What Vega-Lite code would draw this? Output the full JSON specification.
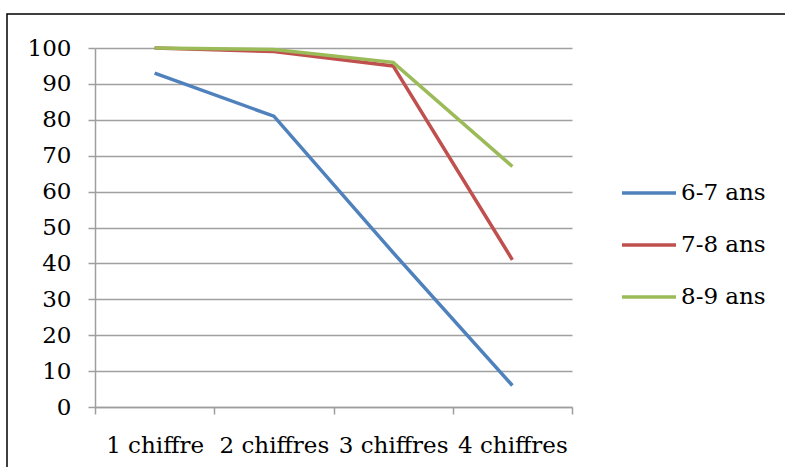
{
  "$schema": "https://vega.github.io/schema/vega-lite/v6.json",
  "autosize": {"type": "none"},
  "padding": {"left": 7, "top": 14, "right": 0, "bottom": 0},
  "width": 780,
  "height": 455,
  "background": "white",
  "config": {
    "view": {"stroke": "black", "strokeWidth": 1.5},
    "font": "DejaVu Serif"
  },
  "data": {
    "values": [
      {"cat": "1 chiffre", "groupe": "6-7 ans", "val": 93},
      {"cat": "2 chiffres", "groupe": "6-7 ans", "val": 81},
      {"cat": "3 chiffres", "groupe": "6-7 ans", "val": 43},
      {"cat": "4 chiffres", "groupe": "6-7 ans", "val": 6},
      {"cat": "1 chiffre", "groupe": "7-8 ans", "val": 100},
      {"cat": "2 chiffres", "groupe": "7-8 ans", "val": 99},
      {"cat": "3 chiffres", "groupe": "7-8 ans", "val": 95},
      {"cat": "4 chiffres", "groupe": "7-8 ans", "val": 41},
      {"cat": "1 chiffre", "groupe": "8-9 ans", "val": 100},
      {"cat": "2 chiffres", "groupe": "8-9 ans", "val": 99.6},
      {"cat": "3 chiffres", "groupe": "8-9 ans", "val": 96},
      {"cat": "4 chiffres", "groupe": "8-9 ans", "val": 67}
    ]
  },
  "mark": {"type": "line", "strokeWidth": 3.5},
  "encoding": {
    "x": {
      "field": "cat",
      "type": "ordinal",
      "bandPosition": 0.5,
      "sort": null,
      "scale": {"type": "band", "range": [88, 565], "paddingInner": 0, "paddingOuter": 0},
      "axis": {
        "title": null,
        "offset": -62,
        "labelAngle": 0,
        "labelFont": "DejaVu Serif",
        "labelFontSize": 23,
        "labelColor": "black",
        "labelBaseline": "alphabetic",
        "labelPadding": 38,
        "tickBand": "extent",
        "tickSize": 7,
        "tickColor": "#9e9e9e",
        "tickWidth": 1.5,
        "domainColor": "#9e9e9e",
        "domainWidth": 1.5,
        "grid": false
      }
    },
    "y": {
      "field": "val",
      "type": "quantitative",
      "scale": {"domain": [0, 100], "range": [393, 34], "nice": false, "zero": true},
      "axis": {
        "title": null,
        "offset": -88,
        "values": [0, 10, 20, 30, 40, 50, 60, 70, 80, 90, 100],
        "labelFont": "DejaVu Serif",
        "labelFontSize": 23,
        "labelColor": "black",
        "labelPadding": 17,
        "tickSize": 7,
        "tickColor": "#9e9e9e",
        "tickWidth": 1.5,
        "domainColor": "#9e9e9e",
        "domainWidth": 1.5,
        "grid": true,
        "gridColor": "#a0a0a0",
        "gridWidth": 1.5
      }
    },
    "color": {
      "field": "groupe",
      "type": "nominal",
      "scale": {"domain": ["6-7 ans", "7-8 ans", "8-9 ans"], "range": ["#4f81bd", "#c0504d", "#9bbb59"]},
      "legend": {
        "title": null,
        "orient": "none",
        "legendX": 613,
        "legendY": 150,
        "symbolType": "stroke",
        "symbolSize": 2916,
        "symbolStrokeWidth": 3.5,
        "labelFont": "DejaVu Serif",
        "labelFontSize": 23,
        "labelColor": "black",
        "labelOffset": 3,
        "rowPadding": 11
      }
    }
  }
}
